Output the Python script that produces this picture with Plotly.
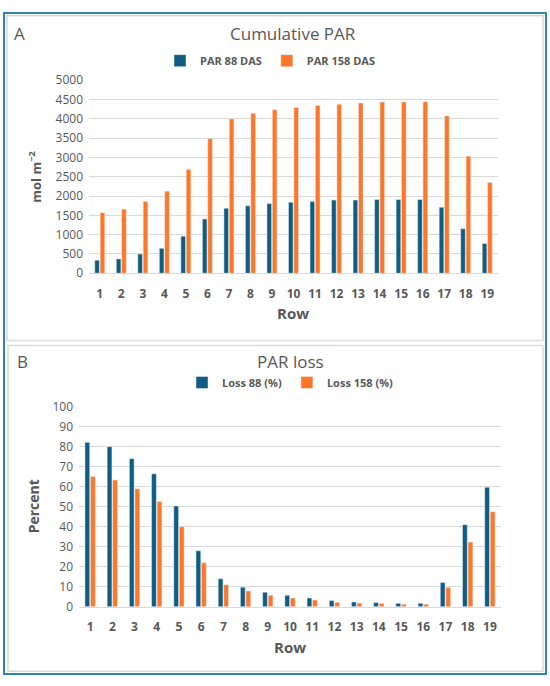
import plotly.graph_objects as go

rows = [str(i) for i in range(1, 20)]

par_88 = [340, 373, 500, 645, 958, 1407, 1686, 1746, 1805, 1839, 1856, 1895,
          1895, 1912, 1912, 1912, 1712, 1153, 772]
par_158 = [1568, 1661, 1856, 2127, 2690, 3493, 3998, 4141, 4234, 4293, 4343,
           4377, 4411, 4436, 4436, 4444, 4074, 3030, 2350]

loss_88 = [82.3, 80.1, 74.1, 66.5, 50.4, 28.0, 14.0, 9.8, 7.3, 5.8, 4.4, 3.1,
           2.4, 2.1, 1.8, 1.8, 12.1, 41.1, 59.8]
loss_158 = [65.2, 63.4, 59.0, 52.7, 40.0, 22.0, 11.0, 7.9, 5.8, 4.4, 3.4, 2.3,
            1.9, 1.6, 1.3, 1.3, 9.7, 32.4, 47.6]

BLUE = "#0F5E82"
ORANGE = "#FF7627"
GREY = "#595959"
FONT = "Open Sans"

W, H = 550, 686


def px(x):
    return x / W


def py(y):
    return 1 - y / H


fig = go.Figure()

fig.add_trace(go.Bar(x=rows, y=par_88, name="PAR 88 DAS", marker_color=BLUE,
                     xaxis="x", yaxis="y", legend="legend"))
fig.add_trace(go.Bar(x=rows, y=par_158, name="PAR 158 DAS", marker_color=ORANGE,
                     xaxis="x", yaxis="y", legend="legend"))
fig.add_trace(go.Bar(x=rows, y=loss_88, name="Loss 88 (%)", marker_color=BLUE,
                     xaxis="x2", yaxis="y2", legend="legend2"))
fig.add_trace(go.Bar(x=rows, y=loss_158, name="Loss 158 (%)", marker_color=ORANGE,
                     xaxis="x2", yaxis="y2", legend="legend2"))

xcommon = dict(showgrid=False, showline=True, linecolor="#D9D9D9", ticks="",
               ticklabelstandoff=9,
               tickfont=dict(family=FONT, size=12, color=GREY, weight="bold"),
               fixedrange=True)
ycommon = dict(showgrid=True, gridcolor="#D9D9D9", gridwidth=1, zeroline=False,
               showline=False, ticks="", ticklabelstandoff=5,
               tickfont=dict(family=FONT, size=12, color=GREY))

fig.update_layout(
    width=W, height=H,
    margin=dict(l=0, r=0, t=0, b=0),
    paper_bgcolor="white", plot_bgcolor="white",
    barmode="group", bargap=0.5, bargroupgap=0.14,
    font=dict(family=FONT, color=GREY),
    xaxis=dict(xcommon, domain=[px(89), px(498)], anchor="y"),
    yaxis=dict(ycommon, domain=[py(271), py(73)], range=[0, 5000], dtick=500,
               anchor="x"),
    xaxis2=dict(xcommon, domain=[px(79), px(501)], anchor="y2"),
    yaxis2=dict(ycommon, domain=[py(613), py(408)], range=[0, 100], dtick=10,
                anchor="x2"),
    legend=dict(orientation="h", x=px(160), y=py(53), xanchor="left", yanchor="middle",
                font=dict(family=FONT, size=11, color=GREY, weight="bold"),
                itemwidth=30, traceorder="normal", bgcolor="rgba(0,0,0,0)"),
    legend2=dict(orientation="h", x=px(182), y=py(383), xanchor="left", yanchor="middle",
                 font=dict(family=FONT, size=11, color=GREY, weight="bold"),
                 itemwidth=30, traceorder="normal", bgcolor="rgba(0,0,0,0)"),
)

# frames
fig.add_shape(type="rect", xref="paper", yref="paper", x0=px(4), x1=px(546),
              y0=py(682), y1=py(4), line=dict(color="#2E86A8", width=2))
fig.add_shape(type="rect", xref="paper", yref="paper", x0=px(7), x1=px(543),
              y0=py(340), y1=py(7), line=dict(color="#D9D9D9", width=1.5))
fig.add_shape(type="rect", xref="paper", yref="paper", x0=px(8), x1=px(543),
              y0=py(679), y1=py(345), line=dict(color="#D9D9D9", width=1.5))

notes = [
    (12, 25, "A", 17, "normal", 0),
    (293, 25, "Cumulative PAR", 17, "normal", 0),
    (293, 312, "Row", 15, "bold", 0),
    (35, 172, "mol m<sup>−2</sup>", 13, "bold", -90),
    (15, 361, "B", 17, "normal", 0),
    (290, 361, "PAR loss", 17, "normal", 0),
    (290, 654, "Row", 15, "bold", 0),
    (33, 510, "Percent", 14, "bold", -90),
]
for x, y, text, size, weight, angle in notes:
    fig.add_annotation(xref="paper", yref="paper", x=px(x), y=py(y), text=text,
                       showarrow=False, textangle=angle,
                       xanchor="left" if text in ("A", "B") else "center",
                       yanchor="middle",
                       font=dict(family=FONT, size=size, color=GREY, weight=weight))

fig.write_html("out.html", config={"displayModeBar": False},
               post_script="document.body.style.margin='0';document.body.style.overflow='hidden';")
